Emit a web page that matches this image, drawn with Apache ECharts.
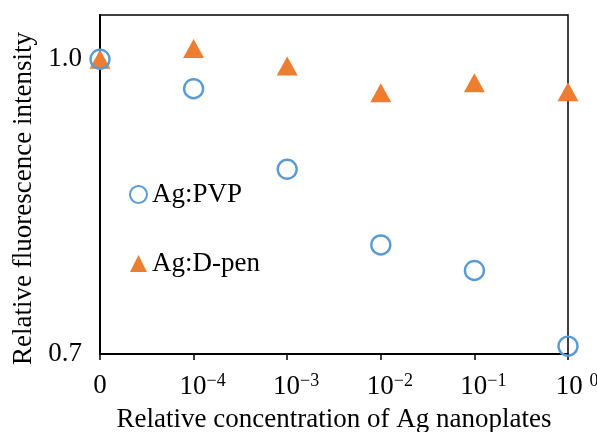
<!DOCTYPE html>
<html>
<head>
<meta charset="utf-8">
<script src="https://cdn.jsdelivr.net/npm/echarts@6/dist/echarts.min.js"></script>
<style>
  html, body { margin: 0; padding: 0; background: #fff; }
  #chart { width: 597px; height: 432px; }
</style>
</head>
<body>
<div id="chart"></div>
<script>
// x positions: 0, 1e-4, 1e-3, 1e-2, 1e-1, 1e0 drawn at equal steps
var xLabels = ["0", "10|−4", "10|−3", "10|−2", "10|−1", "10 |0"];
var xPos = [0, 1, 2, 3, 4, 5];
var pvpValues = [1.0, 0.970, 0.888, 0.811, 0.785, 0.708];
var dpenValues = [1.0, 1.011, 0.993, 0.966, 0.976, 0.967];
var yTicks = [0.7, 1.0];

var serif = "Liberation Serif";

function pairs(vals) {
  return xPos.map(function (x, i) { return [x, vals[i]]; });
}

var chart = echarts.init(document.getElementById("chart"));
chart.setOption({
  backgroundColor: "#ffffff",
  animation: false,
  grid: {
    left: 100,
    right: 29,
    top: 15,
    bottom: 78,
    outerBoundsMode: "none",
    show: true,
    borderColor: "#000",
    borderWidth: 1.5
  },
  legend: {
    orient: "vertical",
    left: 124,
    top: 176,
    itemGap: 42,
    itemWidth: 17,
    itemHeight: 17,
    itemStyle: { opacity: 1 },
    data: ["Ag:PVP", "Ag:D-pen"],
    textStyle: { fontFamily: serif, fontSize: 27, color: "#000" }
  },
  xAxis: {
    type: "value",
    min: 0,
    max: 5,
    interval: 1,
    splitLine: { show: false },
    axisLine: { lineStyle: { color: "#000", width: 2 } },
    axisTick: { show: true, length: 6, lineStyle: { color: "#000", width: 1.5 } },
    axisLabel: {
      margin: 18,
      color: "#000",
      fontFamily: serif,
      fontSize: 27,
      formatter: function (v) {
        var s = xLabels[Math.round(v)];
        if (s.indexOf("|") < 0) return s;
        var p = s.split("|");
        // left spacer keeps the base "10" centred under the tick
        return "{g|}{b|" + p[0] + "}{s|" + p[1] + "}";
      },
      rich: {
        g: { width: 18 },
        b: { fontFamily: serif, fontSize: 27, color: "#000" },
        s: { fontFamily: serif, fontSize: 18, color: "#000", verticalAlign: "top", padding: [0, 0, 12, 0] }
      }
    },
    name: "Relative concentration of Ag nanoplates",
    nameLocation: "middle",
    nameGap: 52,
    nameTextStyle: { fontFamily: serif, fontSize: 27, color: "#000" }
  },
  yAxis: {
    type: "value",
    min: 0.7,
    max: 1.045,
    splitLine: { show: false },
    axisLine: { show: true, lineStyle: { color: "#000", width: 2 } },
    axisTick: { show: false },
    axisLabel: {
      customValues: yTicks,
      margin: 18,
      padding: [5, 0, 0, 0],
      color: "#000",
      fontFamily: serif,
      fontSize: 27,
      formatter: function (v) { return v.toFixed(1); }
    },
    name: "Relative fluorescence intensity",
    nameLocation: "middle",
    nameGap: 63,
    nameTextStyle: { fontFamily: serif, fontSize: 27, color: "#000", padding: [0, 28, 0, 0] }
  },
  series: [
    {
      name: "Ag:D-pen",
      type: "scatter",
      clip: false,
      symbol: "triangle",
      symbolSize: [21, 19],
      itemStyle: { color: "#ED7D31", opacity: 1 },
      data: pairs(dpenValues),
      z: 2
    },
    {
      name: "Ag:PVP",
      type: "scatter",
      clip: false,
      symbol: "circle",
      symbolSize: 19,
      itemStyle: { color: "rgba(255,255,255,0)", borderColor: "#5B9BD5", borderWidth: 2.4, opacity: 1 },
      data: pairs(pvpValues),
      z: 3
    }
  ]
});
</script>
</body>
</html>
